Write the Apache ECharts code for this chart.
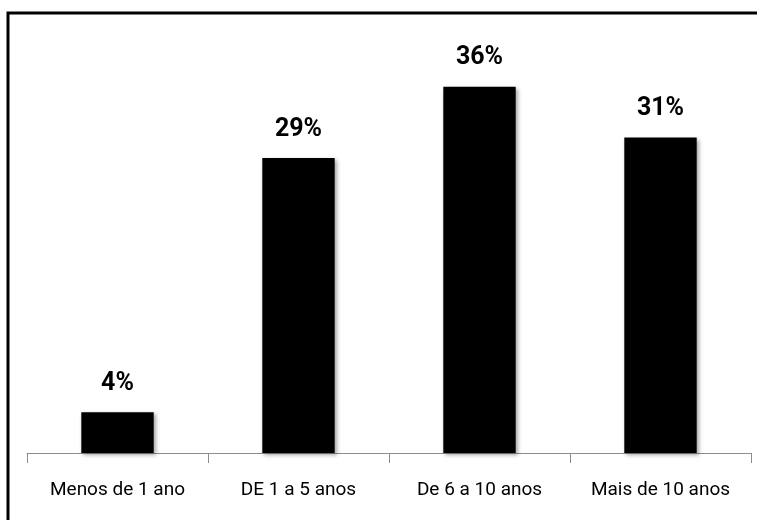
<!DOCTYPE html>
<html>
<head>
<meta charset="utf-8">
<script src="https://cdn.jsdelivr.net/npm/echarts@6/dist/echarts.min.js"></script>
<style>
  html, body { margin: 0; padding: 0; background: #fff; }
  #chart { width: 757px; height: 520px; }
</style>
</head>
<body>
<div id="chart"></div>
<script>
// Tempo de experiência: share of respondents per range
const categories = ['Menos de 1 ano', 'DE 1 a 5 anos', 'De 6 a 10 anos', 'Mais de 10 anos'];
const percentages = [4, 29, 36, 31];

const face = 'Roboto, "Liberation Sans", sans-serif';

const chart = echarts.init(document.getElementById('chart'));
chart.setOption({
  animation: false,
  backgroundColor: '#fff',
  grid: { left: 27, right: 6, top: 46, bottom: 67 },
  graphic: [{
    type: 'rect',
    shape: { x: 8, y: 13, width: 800, height: 600 },
    style: { fill: 'none', stroke: '#000', lineWidth: 3 },
    silent: true
  }],
  xAxis: {
    type: 'category',
    data: categories,
    axisLine: { lineStyle: { color: '#8c8c8c', width: 1 } },
    axisTick: { show: true, interval: 0, length: 10, lineStyle: { color: '#8c8c8c' } },
    axisLabel: { interval: 0, color: '#000', fontSize: 19, fontFamily: face, margin: 28 }
  },
  yAxis: {
    type: 'value',
    min: 0,
    max: 40,
    show: false,
    splitLine: { show: false }
  },
  series: [{
    type: 'bar',
    data: percentages,
    barWidth: '40%',
    itemStyle: {
      color: '#000',
      shadowColor: 'rgba(0,0,0,0.35)',
      shadowBlur: 4,
      shadowOffsetX: 2,
      shadowOffsetY: 2
    },
    label: {
      show: true,
      position: 'top',
      distance: 16,
      formatter: p => p.value + '%',
      color: '#000',
      fontSize: 25,
      fontWeight: 'bold',
      fontFamily: face
    }
  }]
});
</script>
</body>
</html>
